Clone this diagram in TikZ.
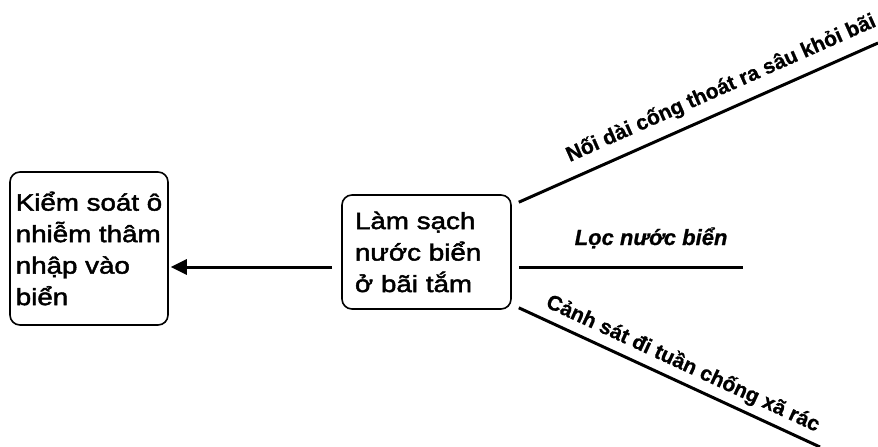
\documentclass[tikz,border=0pt]{standalone}
\usepackage{fontspec}
\setmainfont{Liberation Sans}
\newfontfamily\boxfont[FakeStretch=1.18, FakeBold=2]{Liberation Sans}
\newfontfamily\lblfont[FakeBold=0.8]{Liberation Sans Bold}
\newfontfamily\lblitfont[FakeBold=0.8]{Liberation Sans Bold Italic}
\usepackage{tikz}
\usetikzlibrary{positioning,arrows.meta,calc}

\begin{document}
\begin{tikzpicture}[
  x=1pt, y=-1pt,
  box/.style={draw, line width=1.6pt, rounded corners=10pt, align=left, inner sep=0pt,
    font=\boxfont\fontsize{23.5}{31.5}\selectfont},
  lbl/.style={inner sep=0pt, font=\lblfont\fontsize{21}{25}\selectfont},
  branch/.style={line width=3pt},
  arr/.style={line width=3pt, -{Triangle[length=16pt, width=15pt]}},
]
\useasboundingbox (0,0) rectangle (878,447);
\node[box, minimum width=158pt, minimum height=153pt] (goal) at (89,248.5)
  {Kiểm soát ô\\nhiễm thâm\\nhập vào\\biển};
\node[box, text width=143pt, inner xsep=13pt, minimum height=114pt] (clean) at (426.5,252)
  {Làm sạch\\nước biển\\ở bãi tắm};
\coordinate (ay) at (0,267);
\coordinate (e1) at (878,43);
\coordinate (e2) at (743,267);
\coordinate (e3) at (820,447);
\draw[arr, shorten <=9pt, shorten >=2pt] (clean.west |- ay) -- (goal.east |- ay);
\draw[branch] ($(clean.north east)+(7,8)$) -- (e1)
  node[lbl, sloped, pos=0.588, anchor=base, yshift=16pt] {Nối dài cống thoát ra sâu khỏi bãi};
\draw[branch] ($(clean.east |- ay)+(7,0)$) -- (e2)
  node[lbl, pos=0.59, anchor=base, yshift=22pt, font=\lblitfont\fontsize{22}{26}\selectfont] {Lọc nước biển};
\draw[branch] ($(clean.south east)+(7,-2)$) -- (e3)
  node[lbl, sloped, pos=0.52, anchor=base, yshift=12pt] {Cảnh sát đi tuần chống xã rác};
\end{tikzpicture}
\end{document}
